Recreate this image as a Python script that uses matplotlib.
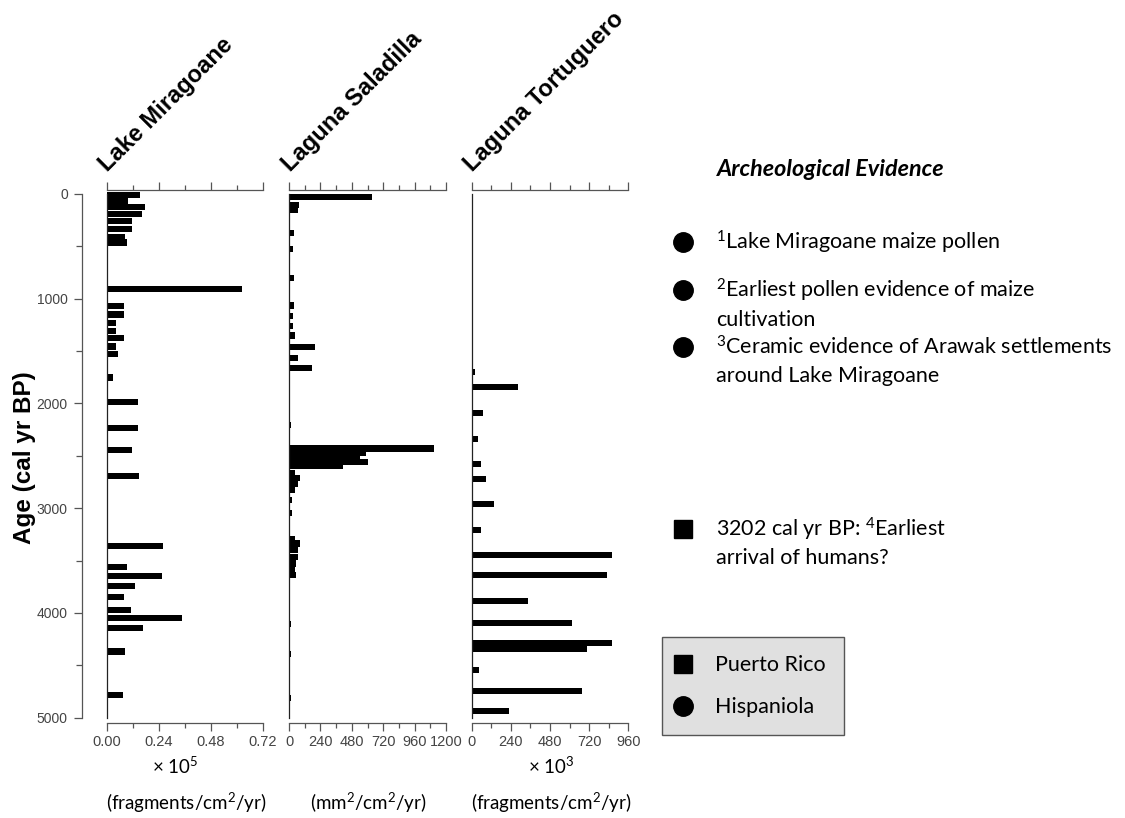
import matplotlib
matplotlib.use("Agg")
import matplotlib.pyplot as plt
from matplotlib.ticker import MultipleLocator, FormatStrFormatter
from matplotlib.lines import Line2D

plt.rcParams['font.family'] = ['Liberation Sans', 'DejaVu Sans']
plt.rcParams['mathtext.fontset'] = 'custom'
plt.rcParams['mathtext.rm'] = 'Lato'
plt.rcParams['mathtext.it'] = 'Lato:italic'
plt.rcParams['mathtext.bf'] = 'Lato:bold'

# Data
# Lake Miragoane, charcoal influx x10^5 fragments/cm2/yr
ages_mir = [14, 66, 121, 190, 262, 332, 407, 463, 910, 1071, 1151, 1230, 1310,
            1373, 1456, 1524, 1752, 1989, 2234, 2448, 2696, 3365, 3562, 3651,
            3745, 3849, 3970, 4048, 4145, 4368, 4782]
vals_mir = [0.152, 0.098, 0.175, 0.160, 0.114, 0.114, 0.083, 0.091, 0.624,
            0.078, 0.078, 0.040, 0.040, 0.078, 0.040, 0.052, 0.026, 0.141,
            0.141, 0.115, 0.149, 0.257, 0.091, 0.252, 0.129, 0.078, 0.111,
            0.348, 0.168, 0.085, 0.072]

# Laguna Saladilla, mm2/cm2/yr
ages_sal = [33, 105, 150, 375, 524, 801, 1065, 1161, 1262, 1351, 1461, 1566,
            1661, 2203, 2430, 2475, 2515, 2560, 2600, 2660, 2708, 2764, 2828,
            2920, 3046, 3297, 3337, 3400, 3464, 3528, 3584, 3640, 4109, 4392,
            4813]
vals_sal = [632, 80, 65, 38, 28, 38, 38, 28, 28, 48, 199, 71, 178, 15, 1106,
            586, 540, 600, 410, 44, 82, 69, 44, 25, 25, 44, 87, 69, 69, 57, 44,
            57, 15, 15, 15]

# Laguna Tortuguero, x10^3 fragments/cm2/yr
ages_tor = [1699, 1847, 2087, 2337, 2575, 2722, 2957, 3212, 3450, 3636, 3885,
            4097, 4284, 4346, 4549, 4748, 4934]
vals_tor = [20, 286, 72, 37, 55, 88, 139, 55, 862, 827, 343, 617, 862, 709,
            47, 674, 231]

site_names = ['Lake Miragoane', 'Laguna Saladilla', 'Laguna Tortuguero']
x_limits = [(0, 0.72), (0, 1200), (0, 960)]
x_major = [0.24, 240, 240]
x_minor = [0.12, 120, 120]
x_fmt = ['%.2f', '%d', '%d']
scale_labels = ['× 10$\\mathregular{^5}$', '', '× 10$\\mathregular{^3}$']
unit_labels = ['(fragments/cm$\\mathregular{^2}$/yr)',
               '(mm$\\mathregular{^2}$/cm$\\mathregular{^2}$/yr)',
               '(fragments/cm$\\mathregular{^2}$/yr)']
age_limits = (5048, -38)

# Archeological evidence notes
evidence_markers = ['o', 'o', 'o', 's']
evidence_text = [
    ['$\\mathregular{^1}$Lake Miragoane maize pollen'],
    ['$\\mathregular{^2}$Earliest pollen evidence of maize', 'cultivation'],
    ['$\\mathregular{^3}$Ceramic evidence of Arawak settlements',
     'around Lake Miragoane'],
    ['3202 cal yr BP: $\\mathregular{^4}$Earliest', 'arrival of humans?'],
]
legend_labels = ['Puerto Rico', 'Hispaniola']
legend_markers = ['s', 'o']

W, H = 1125, 818
fig = plt.figure(figsize=(W / 100, H / 100), dpi=100)


def px_box(x0, x1, y0, y1):
    return [x0 / W, 1 - y1 / H, (x1 - x0) / W, (y1 - y0) / H]


gray = '#555555'
tick_font = ['Liberation Sans Narrow', 'Liberation Sans', 'DejaVu Sans']
panel_px = [(107, 263), (289, 446), (471.7, 628.3)]
top_px, bot_px = 190, 722.7
datasets = [(ages_mir, vals_mir), (ages_sal, vals_sal), (ages_tor, vals_tor)]

for i, (ages, vals) in enumerate(datasets):
    x0, x1 = panel_px[i]
    ax = fig.add_axes(px_box(x0, x1, top_px, bot_px))
    ax.barh(ages, vals, height=58, color='black', linewidth=0)
    ax.set_xlim(*x_limits[i])
    ax.set_ylim(*age_limits)
    ax.spines['right'].set_visible(False)
    ax.spines['left'].set_bounds(0, 5000)
    ax.spines['left'].set_color('#222222')
    for s in ['top', 'bottom']:
        ax.spines[s].set_color(gray)
    for s in ax.spines.values():
        s.set_linewidth(0.9)
    ax.set_yticks([])
    ax.xaxis.set_major_locator(MultipleLocator(x_major[i]))
    ax.xaxis.set_minor_locator(MultipleLocator(x_minor[i]))
    ax.xaxis.set_major_formatter(FormatStrFormatter(x_fmt[i]))
    ax.tick_params(axis='x', which='both', top=True, bottom=True,
                   direction='out', color=gray, labelcolor='#444444',
                   labelsize=10.5, width=0.9, pad=3)
    ax.tick_params(axis='x', which='major', length=6)
    ax.tick_params(axis='x', which='minor', length=3.5)
    for lab in ax.get_xticklabels():
        lab.set_family(tick_font)
    ax.patch.set_alpha(0)

    cx = (x0 + x1) / 2
    fig.text((cx - 10) / W if i == 0 else (cx + 1) / W, 1 - 766 / H,
             scale_labels[i], family='Lato', fontsize=13.5,
             ha='center', va='center')
    fig.text((cx + 1) / W, 1 - 803 / H, unit_labels[i], family='Lato',
             fontsize=13.5, ha='center', va='center')
    title_x = [107, 290, 472][i]
    fig.text(title_x / W, 1 - 172 / H, site_names[i], rotation=45,
             rotation_mode='anchor', ha='left', va='baseline',
             fontsize=17, fontweight='bold')

# Shared age axis
ax_age = fig.add_axes(px_box(81.7, 82.7, top_px, bot_px))
ax_age.set_ylim(*age_limits)
ax_age.set_xticks([])
for s in ['top', 'right', 'bottom']:
    ax_age.spines[s].set_visible(False)
ax_age.spines['left'].set_bounds(0, 5000)
ax_age.spines['left'].set_color(gray)
ax_age.spines['left'].set_linewidth(0.9)
ax_age.yaxis.set_major_locator(MultipleLocator(1000))
ax_age.yaxis.set_minor_locator(MultipleLocator(500))
ax_age.tick_params(axis='y', which='both', direction='out', color=gray,
                   labelcolor='#444444', labelsize=10, width=0.9, pad=4)
ax_age.tick_params(axis='y', which='major', length=6)
ax_age.tick_params(axis='y', which='minor', length=4)
for lab in ax_age.get_yticklabels():
    lab.set_family(tick_font)
ax_age.patch.set_alpha(0)
fig.text(25 / W, 1 - 458 / H, 'Age (cal yr BP)', rotation=90,
         fontsize=17.5, fontweight='bold', ha='center', va='center')

# Archeological evidence panel
ax_note = fig.add_axes([0, 0, 1, 1])
ax_note.set_xlim(0, W)
ax_note.set_ylim(H, 0)
ax_note.axis('off')
ax_note.text(717, 170, 'Archeological Evidence', family='Lato',
             fontsize=16.8, fontweight='bold', fontstyle='italic',
             ha='left', va='center')
note_y = [242, 290, 347, 529]
for marker, lines, y in zip(evidence_markers, evidence_text, note_y):
    ax_note.plot(682.7, y, marker=marker, color='black',
                 markersize=14 if marker == 'o' else 13.5, linestyle='none')
    for k, line in enumerate(lines):
        ax_note.text(716, y + k * 29.5, line, family='Lato', fontsize=15.5,
                     ha='left', va='center')

handles = [Line2D([], [], marker=m, color='black', linestyle='none',
                  markersize=14 if m == 'o' else 13.5) for m in legend_markers]
leg = fig.legend(handles, legend_labels, loc='upper left',
                 bbox_to_anchor=(661.7 / W, 1 - 637.3 / H), borderaxespad=0,
                 frameon=True, fancybox=False, framealpha=1,
                 facecolor='#e0e0e0', edgecolor='#555555',
                 prop={'family': 'Lato', 'size': 15.5},
                 handlelength=0.3, handletextpad=1.36, labelspacing=1.03,
                 borderpad=0.83)
leg.get_frame().set_linewidth(1.0)

fig.savefig('out.png', dpi=100, facecolor='white')
